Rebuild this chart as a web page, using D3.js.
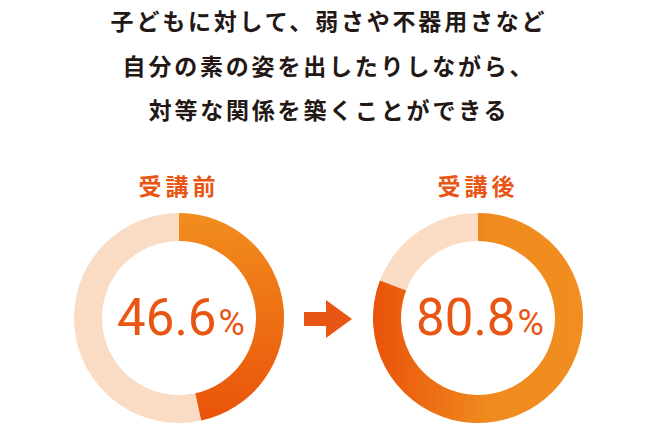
<!DOCTYPE html>
<html>
<head>
<meta charset="utf-8">
<script src="https://d3js.org/d3.v7.min.js"></script>
<style>
  body { margin: 0; background: #fff; }
  svg { display: block; }
</style>
</head>
<body>
<svg id="chart" width="656" height="429"></svg>
<script>
// chart data
const titleLines = [
  "子どもに対して、弱さや不器用さなど",
  "自分の素の姿を出したりしながら、",
  "対等な関係を築くことができる"
];
const phases = ["受講前", "受講後"];
const percents = [46.6, 80.8];

const svg = d3.select("#chart");
const W = 656;
const jp = "'Noto Sans CJK JP', 'Noto Sans', sans-serif";
const orange = "#e95513";

// gradients: before = top->bottom, after = right->left
const defs = svg.append("defs");
const g0 = defs.append("linearGradient").attr("id", "grad0")
  .attr("gradientUnits", "userSpaceOnUse")
  .attr("x1", 0).attr("y1", -105).attr("x2", 0).attr("y2", 105);
g0.append("stop").attr("offset", "0%").attr("stop-color", "#f18e1f");
g0.append("stop").attr("offset", "100%").attr("stop-color", "#e95209");
const g1 = defs.append("linearGradient").attr("id", "grad1")
  .attr("gradientUnits", "userSpaceOnUse")
  .attr("x1", -105).attr("y1", 0).attr("x2", 105).attr("y2", 0);
g1.append("stop").attr("offset", "0%").attr("stop-color", "#e95209");
g1.append("stop").attr("offset", "55%").attr("stop-color", "#f08a1e");
g1.append("stop").attr("offset", "100%").attr("stop-color", "#f18e1f");

// title
svg.append("g").selectAll("text")
  .data(titleLines)
  .join("text")
  .attr("x", W / 2 + 1)
  .attr("y", (d, i) => 30 + i * 44.5)
  .attr("text-anchor", "middle")
  .attr("font-family", jp)
  .attr("font-weight", 700)
  .attr("font-size", 23)
  .attr("letter-spacing", 2.8)
  .attr("fill", "#231815")
  .text(d => d);

const xs = d3.scalePoint().domain(phases).range([179, 478]);
const cy = 318;
const arc = d3.arc().innerRadius(77).outerRadius(105);
const pct = d3.scaleLinear().domain([0, 100]).range([0, 2 * Math.PI]);

const donuts = svg.selectAll("g.donut")
  .data(phases.map((p, i) => ({ phase: p, value: percents[i], i: i })))
  .join("g")
  .attr("class", "donut")
  .attr("transform", d => "translate(" + xs(d.phase) + "," + cy + ")");

donuts.append("path")
  .attr("d", arc({ startAngle: 0, endAngle: 2 * Math.PI }))
  .attr("fill", "#fadcc4");

donuts.append("path")
  .attr("d", d => arc({ startAngle: 0, endAngle: pct(d.value) }))
  .attr("fill", d => "url(#grad" + d.i + ")");

donuts.append("text")
  .attr("x", 0)
  .attr("y", -123)
  .attr("text-anchor", "middle")
  .attr("font-family", jp)
  .attr("font-weight", 700)
  .attr("font-size", 23)
  .attr("letter-spacing", 4)
  .attr("fill", orange)
  .text(d => d.phase);

const val = donuts.append("text")
  .attr("x", 2)
  .attr("y", 17)
  .attr("text-anchor", "middle")
  .attr("font-family", "Roboto, 'Noto Sans', sans-serif")
  .attr("fill", orange);
val.append("tspan")
  .attr("font-size", 51)
  .attr("font-weight", 400)
  .text(d => d.value.toFixed(1));
val.append("tspan")
  .attr("font-size", 36)
  .attr("dx", 2)
  .text("%");

// arrow between the two donuts
const ax = (xs(phases[0]) + xs(phases[1])) / 2 - 0.5;
svg.append("path")
  .attr("d", "M-24,-7 L-2,-7 L-2,-19 L24,0 L-2,19 L-2,7 L-24,7 Z")
  .attr("transform", "translate(" + ax + "," + (cy + 1) + ")")
  .attr("fill", orange);
</script>
</body>
</html>
